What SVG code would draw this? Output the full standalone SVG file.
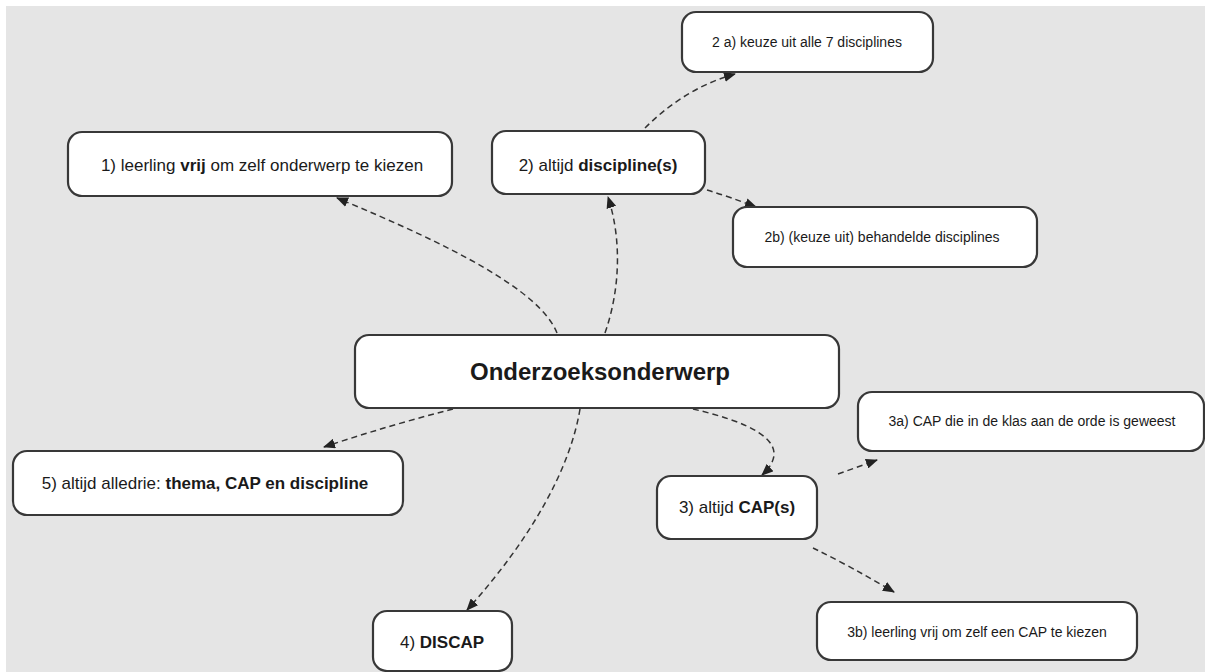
<svg xmlns="http://www.w3.org/2000/svg" width="1205" height="672" viewBox="0 0 1205 672">
  <style>
    .box { fill: #ffffff; stroke: #383838; stroke-width: 2.2; }
    .t { font-family: "Liberation Sans", Arial, sans-serif; fill: #1a1a1a; text-anchor: middle; }
    .m { font-size: 17px; }
    .s { font-size: 14px; }
    .c { font-size: 24px; font-weight: bold; }
    .b { font-weight: bold; }
    .edge { fill: none; stroke: #333333; stroke-width: 1.5; stroke-dasharray: 6 4; marker-end: url(#arrow); }
  </style>
  <defs>
    <marker id="arrow" markerUnits="userSpaceOnUse" markerWidth="12" markerHeight="10" refX="11" refY="5" orient="auto">
      <path d="M0,0 L12,5 L0,10 Z" fill="#222222"/>
    </marker>
  </defs>
  <rect x="0" y="0" width="1205" height="672" fill="#ffffff"/>
  <rect x="6" y="6" width="1199" height="666" fill="#e5e5e5"/>

  <g id="connectors">
    <path class="edge" d="M557,333 C540,290 450,245 337,198"/>
    <path class="edge" d="M605,333 C620,290 622,240 608,197"/>
    <path class="edge" d="M645,128 C665,108 695,85 735,74"/>
    <path class="edge" d="M707,190 Q730,197 756,207"/>
    <path class="edge" d="M453,409 Q390,425 324,447"/>
    <path class="edge" d="M580,409 C570,470 530,540 467,610"/>
    <path class="edge" d="M693,409 C740,420 800,440 762,475"/>
    <path class="edge" d="M838,474 L877,460"/>
    <path class="edge" d="M813,548 Q850,566 894,592"/>
  </g>

  <g id="node-central">
    <rect class="box" x="355" y="335" width="484" height="73" rx="14"/>
    <text class="t c" x="600" y="380">Onderzoeksonderwerp</text>
  </g>
  <g id="node-1">
    <rect class="box" x="68" y="132" width="384" height="64" rx="14"/>
    <text class="t m" x="262" y="171">1) leerling <tspan class="b">vrij</tspan> om zelf onderwerp te kiezen</text>
  </g>
  <g id="node-2">
    <rect class="box" x="492" y="131" width="213" height="63" rx="14"/>
    <text class="t m" x="598" y="171">2) altijd <tspan class="b">discipline(s)</tspan></text>
  </g>
  <g id="node-2a">
    <rect class="box" x="682" y="12" width="251" height="60" rx="14"/>
    <text class="t s" x="807" y="47">2 a) keuze uit alle 7 disciplines</text>
  </g>
  <g id="node-2b">
    <rect class="box" x="733" y="207" width="304" height="60" rx="14"/>
    <text class="t s" x="882" y="242">2b) (keuze uit) behandelde disciplines</text>
  </g>
  <g id="node-3">
    <rect class="box" x="657" y="476" width="160" height="63" rx="14"/>
    <text class="t m" x="737" y="513">3) altijd <tspan class="b">CAP(s)</tspan></text>
  </g>
  <g id="node-3a">
    <rect class="box" x="858" y="392" width="346" height="59" rx="14"/>
    <text class="t s" x="1032" y="426">3a) CAP die in de klas aan de orde is geweest</text>
  </g>
  <g id="node-3b">
    <rect class="box" x="817" y="602" width="320" height="58" rx="14"/>
    <text class="t s" x="977" y="637">3b) leerling vrij om zelf een CAP te kiezen</text>
  </g>
  <g id="node-4">
    <rect class="box" x="373" y="611" width="139" height="60" rx="14"/>
    <text class="t m" x="442" y="648">4) <tspan class="b">DISCAP</tspan></text>
  </g>
  <g id="node-5">
    <rect class="box" x="13" y="451" width="390" height="64" rx="14"/>
    <text class="t m" x="205" y="489">5) altijd alledrie: <tspan class="b">thema, CAP en discipline</tspan></text>
  </g>
</svg>
